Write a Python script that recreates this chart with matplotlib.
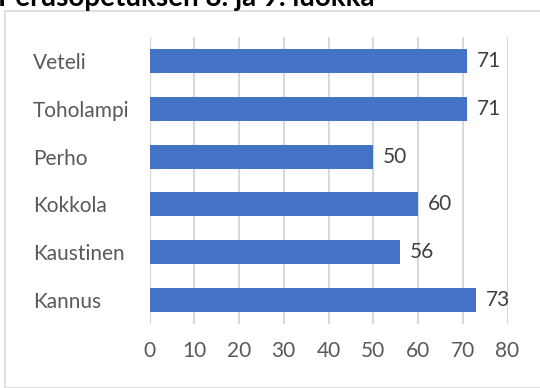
import matplotlib.pyplot as plt
from matplotlib.patches import Rectangle

# data, bottom to top as drawn
kunnat = ["Kannus", "Kaustinen", "Kokkola", "Perho", "Toholampi", "Veteli"]
arvot = [73, 56, 60, 50, 71, 71]
x_ticks = [0, 10, 20, 30, 40, 50, 60, 70, 80]
title = "Perusopetuksen 8. ja 9. luokka"

plt.rcParams["font.family"] = ["Lato", "DejaVu Sans"]

fig = plt.figure(figsize=(5.4, 3.88), dpi=100)
W, H = 540, 388

# chart frame (light border)
fig.patches.append(Rectangle((5 / W, 0), 1, 1 - 11 / H, transform=fig.transFigure,
                             fill=False, edgecolor="#D9D9D9", linewidth=1.2))

# title, cut at the top edge in the reference
fig.text(-2 / W, 1 - 6 / H, title, fontsize=20, fontweight="bold",
         color="black", va="baseline", ha="left")

ax = fig.add_axes([149.5 / W, 1 - 324 / H, 358 / W, 287 / H])
bars = ax.barh(range(len(kunnat)), arvot, height=0.5, color="#4472C4")

ax.set_xlim(0, 80)
ax.set_ylim(-0.5, len(kunnat) - 0.5)
ax.set_xticks(x_ticks)
ax.set_yticks(range(len(kunnat)))
ax.set_yticklabels(kunnat)
ax.xaxis.grid(True, color="#D9D9D9", linewidth=1.5)
ax.set_axisbelow(True)
for s in ax.spines.values():
    s.set_visible(False)
ax.tick_params(axis="both", length=0, labelsize=15, colors="#595959")
ax.tick_params(axis="x", pad=12)
# left-aligned category labels starting near x=33 px
ax.tick_params(axis="y", pad=(149.5 - 33) * 72 / 100)
for lbl in ax.get_yticklabels():
    lbl.set_horizontalalignment("left")

for b, v in zip(bars, arvot):
    ax.annotate(str(v), (v, b.get_y() + b.get_height() / 2), xytext=(7, 0),
                textcoords="offset points", va="center", ha="left",
                fontsize=15, color="#404040")

fig.savefig("out.png", dpi=100)
